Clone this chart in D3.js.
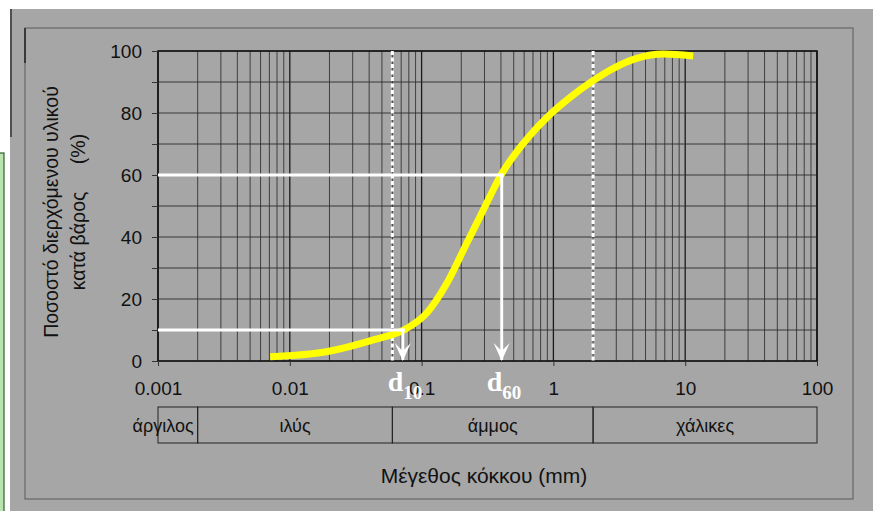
<!DOCTYPE html>
<html>
<head>
<meta charset="utf-8">
<script src="https://cdn.jsdelivr.net/npm/d3@7"></script>
<style>
  body { margin: 0; background: #fff; }
  svg { display: block; }
</style>
</head>
<body>
<svg id="chart"></svg>
<script>
// Grain size distribution (κοκκομετρική καμπύλη) on a log grain-size axis

const decades = [0.001, 0.01, 0.1, 1, 10, 100];
const percentTicks = [0, 20, 40, 60, 80, 100];

// yellow curve
const curveSize    = [0.0071, 0.019, 0.043, 0.077, 0.109, 0.155, 0.22, 0.277, 0.312, 0.40, 0.591, 0.889, 1.336, 1.95, 2.85, 4.29, 6.83, 11.5];
const curvePassing = [1.4,    3.0,   6.8,   10.5,  15.4,  25.0,  38.0, 46.5,  51.0,  60,   70.2,  78.5,  85.0,  90.1, 94.4, 97.6, 99.0, 98.4];

// soil classes along the size axis
const soilNames  = ['άργιλος', 'ιλύς', 'άμμος', 'χάλικες'];
const soilBounds = [0.001, 0.002, 0.06, 2, 100];

// d10 / d60 read-off
const markLabels  = ['10', '60'];
const markSizes   = [0.072, 0.405];
const markPassing = [10, 60];

const W = 873, H = 511;
const svg = d3.select('#chart').attr('width', W).attr('height', H);

// page furniture: green side panel, scanned grey sheet, its frame
svg.append('rect').attr('x', -2).attr('y', 153).attr('width', 6).attr('height', 370)
  .attr('fill', '#b9e4b0').attr('stroke', '#2f5f2f').attr('stroke-width', 1.2);
svg.append('rect').attr('x', 10).attr('y', 9).attr('width', W - 10).attr('height', H - 9)
  .attr('fill', '#a6a6a6');
svg.append('line').attr('x1', 11).attr('x2', 11).attr('y1', 9).attr('y2', 137)
  .attr('stroke', '#333').attr('stroke-width', 1.5);
svg.append('rect').attr('x', 25).attr('y', 28).attr('width', 828).attr('height', 471)
  .attr('fill', 'none').attr('stroke', '#5a5a5a').attr('stroke-width', 1);
svg.append('line').attr('x1', 25).attr('x2', 25).attr('y1', 28).attr('y2', 63)
  .attr('stroke', '#222').attr('stroke-width', 1.5);

const x = d3.scaleLog().domain([0.001, 100]).range([158, 817]);
const y = d3.scaleLinear().domain([0, 100]).range([361, 51]);

const plot = svg.append('g');

// log grid
plot.append('g').selectAll('line').data(x.ticks())
  .join('line')
  .attr('x1', d => x(d)).attr('x2', d => x(d))
  .attr('y1', y(0)).attr('y2', y(100))
  .attr('stroke', d => decades.includes(d) ? '#1a1a1a' : '#333')
  .attr('stroke-width', d => decades.includes(d) ? 1.3 : 0.9);

plot.append('g').selectAll('line').data(y.ticks(10))
  .join('line')
  .attr('x1', x.range()[0]).attr('x2', x.range()[1])
  .attr('y1', d => y(d)).attr('y2', d => y(d))
  .attr('stroke', '#2a2a2a').attr('stroke-width', 0.9);

plot.append('rect')
  .attr('x', x.range()[0]).attr('y', y(100))
  .attr('width', x.range()[1] - x.range()[0]).attr('height', y(0) - y(100))
  .attr('fill', 'none').attr('stroke', '#111').attr('stroke-width', 1.5);

// axes
const font = '"Liberation Sans", Arial, sans-serif';

const yAxis = svg.append('g').attr('transform', `translate(${x.range()[0]},0)`)
  .call(d3.axisLeft(y).tickValues(y.ticks(10))
    .tickFormat(d => percentTicks.includes(d) ? d : '')
    .tickSize(6).tickPadding(10));
const xAxis = svg.append('g').attr('transform', `translate(0,${y(0)})`)
  .call(d3.axisBottom(x).tickValues(decades).tickFormat(d => d)
    .tickSize(5).tickPadding(15.5));

[yAxis, xAxis].forEach(a => {
  a.select('.domain').remove();
  a.selectAll('.tick line').attr('stroke', '#333');
  a.selectAll('.tick text').attr('fill', '#111').attr('font-family', font).attr('font-size', 19);
});

// soil class boxes
const soil = svg.append('g');
soilNames.forEach((name, i) => {
  const x0 = x(soilBounds[i]), x1 = x(soilBounds[i + 1]);
  soil.append('rect').attr('x', x0).attr('y', 407).attr('width', x1 - x0).attr('height', 36)
    .attr('fill', 'none').attr('stroke', '#222').attr('stroke-width', 1);
  const narrow = x1 - x0 < 60;
  soil.append('text')
    .attr('x', narrow ? x1 - 4 : (x0 + x1) / 2).attr('y', 432)
    .attr('text-anchor', narrow ? 'end' : 'middle')
    .attr('font-family', font).attr('font-size', 18).attr('fill', '#111')
    .text(name);
});

// axis titles
svg.append('text').attr('x', 484).attr('y', 483).attr('text-anchor', 'middle')
  .attr('font-family', font).attr('font-size', 21).attr('fill', '#111')
  .text('Μέγεθος κόκκου (mm)');

const yt = svg.append('g').attr('font-family', font).attr('font-size', 19.5).attr('fill', '#111');
yt.append('text').attr('transform', 'translate(58,212) rotate(-90)').attr('text-anchor', 'middle')
  .text('Ποσοστό διερχόμενου υλικού');
yt.append('text').attr('transform', 'translate(85,241) rotate(-90)').attr('text-anchor', 'middle')
  .text('κατά βάρος');
yt.append('text').attr('transform', 'translate(85,149) rotate(-90)').attr('text-anchor', 'middle')
  .text('(%)');

// class boundaries (dotted white)
plot.append('g').selectAll('line').data(soilBounds.slice(2, 4))
  .join('line')
  .attr('x1', d => x(d)).attr('x2', d => x(d))
  .attr('y1', y(100)).attr('y2', y(0))
  .attr('stroke', '#fff').attr('stroke-width', 3).attr('stroke-dasharray', '4,2.5');

// yellow grading curve
const pts = curveSize.map((s, i) => [s, curvePassing[i]]);
plot.append('path').datum(pts)
  .attr('fill', 'none').attr('stroke', '#ffff00').attr('stroke-width', 7)
  .attr('d', d3.line().x(d => x(d[0])).y(d => y(d[1])).curve(d3.curveMonotoneX));

// d10 / d60 read-off lines with arrows
svg.append('defs').append('marker')
  .attr('id', 'arrow').attr('viewBox', '0 0 16 18').attr('refX', 8).attr('refY', 17)
  .attr('markerWidth', 16).attr('markerHeight', 18).attr('markerUnits', 'userSpaceOnUse')
  .attr('orient', 0)
  .append('path').attr('d', 'M0,0 L8,8 L16,0 L8,18 Z').attr('fill', '#fff');

const marks = svg.append('g');
markSizes.forEach((s, i) => {
  const mx = x(s), my = y(markPassing[i]);
  marks.append('line').attr('x1', x.range()[0]).attr('x2', mx + 2).attr('y1', my).attr('y2', my)
    .attr('stroke', '#fff').attr('stroke-width', 3);
  marks.append('line').attr('x1', mx).attr('x2', mx).attr('y1', my - 1.5).attr('y2', y(0) - 1)
    .attr('stroke', '#fff').attr('stroke-width', 3).attr('marker-end', 'url(#arrow)');
  const t = marks.append('text').attr('x', mx - 15).attr('y', 391)
    .attr('font-family', '"Liberation Serif", "Times New Roman", serif').attr('font-weight', 'bold')
    .attr('font-size', 28).attr('fill', '#fff');
  t.append('tspan').text('d');
  t.append('tspan').attr('dy', 8).attr('font-size', 19).text(markLabels[i]);
});
</script>
</body>
</html>
